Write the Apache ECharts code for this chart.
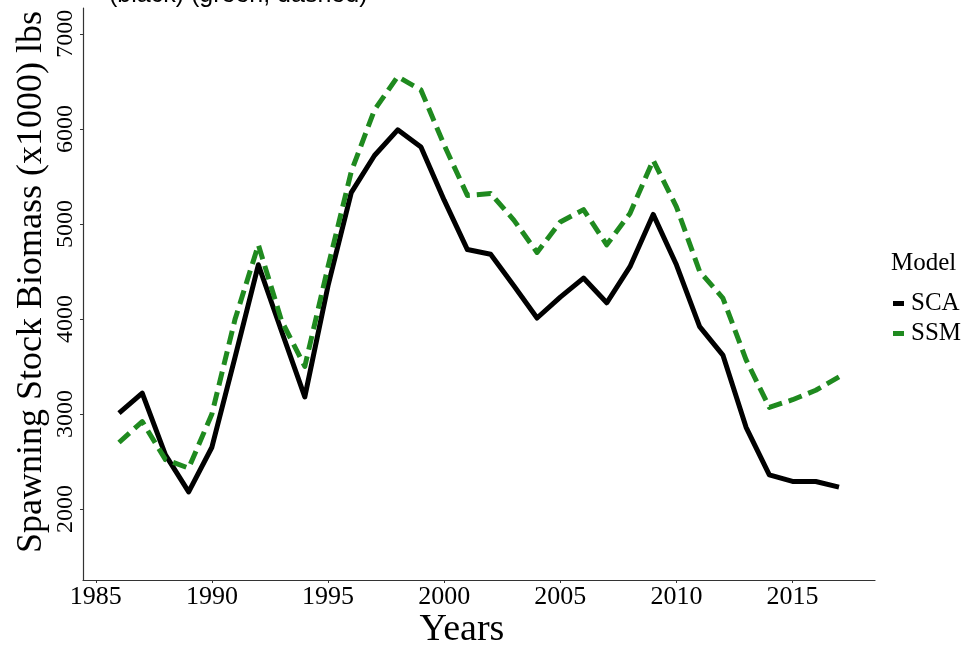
<!DOCTYPE html>
<html>
<head>
<meta charset="utf-8">
<script src="https://cdn.jsdelivr.net/npm/echarts@6/dist/echarts.min.js"></script>
<style>
html,body{margin:0;padding:0;background:#fff;}
#chart{width:978px;height:647px;}
</style>
</head>
<body>
<div id="chart"></div>
<script>
const years = [1986,1987,1988,1989,1990,1991,1992,1993,1994,1995,1996,1997,1998,1999,2000,2001,2002,2003,2004,2005,2006,2007,2008,2009,2010,2011,2012,2013,2014,2015,2016,2017];
const sca = [3010,3220,2570,2180,2650,3600,4570,3870,3180,4350,5330,5720,5990,5810,5250,4730,4680,4350,4010,4230,4430,4170,4550,5100,4570,3920,3620,2860,2360,2290,2290,2230];
const ssm = [2700,2920,2520,2430,3000,4000,4780,3980,3500,4550,5550,6200,6550,6410,5830,5300,5320,5040,4700,5020,5150,4780,5110,5670,5180,4500,4220,3570,3070,3150,3250,3390];
const xTicks = [1985,1990,1995,2000,2005,2010,2015];
const yTicks = [2000,3000,4000,5000,6000,7000];
const seriesNames = ['SCA','SSM'];
const xTitle = 'Years';
const yTitle = 'Spawning Stock Biomass (x1000) lbs';

const serif = '"Liberation Serif", "DejaVu Serif", serif';
const chart = echarts.init(document.getElementById('chart'));
chart.setOption({
  backgroundColor: '#ffffff',
  animation: false,
  title: [
    { text: '(black) (green, dashed)', left: 104, top: -22,
      textStyle: { fontFamily: 'Liberation Sans, sans-serif', fontSize: 25, fontWeight: 'normal', color: '#000' } },
    { text: 'Model', left: 886, top: 246,
      textStyle: { fontFamily: serif, fontSize: 25, fontWeight: 'normal', color: '#000' } }
  ],
  graphic: [
    { type: 'text', x: 32, y: 282, rotation: Math.PI / 2,
      style: { text: yTitle, fontFamily: serif, fontSize: 36, fill: '#000', align: 'center', verticalAlign: 'middle' } },
    { type: 'text', x: 462, y: 630,
      style: { text: xTitle, fontFamily: serif, fontSize: 38, fill: '#000', align: 'center', verticalAlign: 'middle' } }
  ],
  legend: {
    orient: 'vertical', left: 888, top: 286,
    itemWidth: 11, itemHeight: 5, itemGap: 5,
    icon: 'rect',
    data: seriesNames,
    textStyle: { fontFamily: serif, fontSize: 25, color: '#000', padding: [0,0,0,2] }
  },
  grid: { left: 83, right: 103, top: 8, bottom: 67, outerBoundsMode: 'none', containLabel: false },
  xAxis: {
    type: 'value', min: 1984.45, max: 2018.55,
    axisLine: { show: true, lineStyle: { color: '#333', width: 1.2 } },
    axisTick: { show: true, length: 3, customValues: xTicks, lineStyle: { color: '#333' } },
    axisLabel: { customValues: xTicks, margin: 4, fontFamily: serif, fontSize: 26, color: '#000',
      formatter: v => String(v) },
    splitLine: { show: false }
  },
  yAxis: {
    type: 'value', min: 1253, max: 7272,
    axisLine: { show: true, lineStyle: { color: '#333', width: 1.2 } },
    axisTick: { show: true, length: 3, customValues: yTicks, lineStyle: { color: '#333' } },
    axisLabel: { customValues: yTicks, rotate: 90, margin: 5, fontFamily: serif, fontSize: 24, color: '#000',
      formatter: v => String(v) },
    splitLine: { show: false }
  },
  series: [
    { name: seriesNames[0], type: 'line', symbol: 'none', color: '#000000',
      data: years.map((y, i) => [y, sca[i]]),
      lineStyle: { width: 5, color: '#000000', join: 'round' } },
    { name: seriesNames[1], type: 'line', symbol: 'none', color: '#1f8a1f',
      data: years.map((y, i) => [y, ssm[i]]),
      lineStyle: { width: 5, color: '#1f8a1f', type: [14, 7], join: 'round' } }
  ]
});
</script>
</body>
</html>
